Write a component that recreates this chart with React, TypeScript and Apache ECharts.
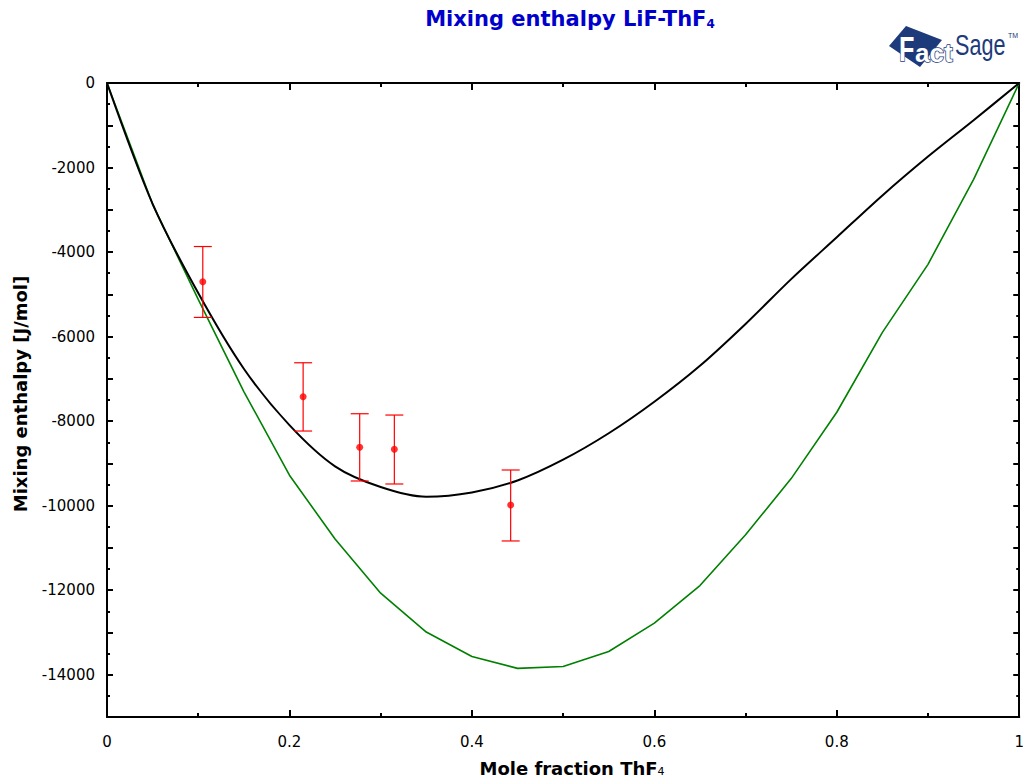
import React, { useEffect, useRef } from 'react';
import * as echarts from 'echarts';

// Model curve (black)
const modelX = [0, 0.05, 0.1, 0.15, 0.2, 0.25, 0.3, 0.35, 0.4, 0.45, 0.5, 0.55, 0.6, 0.65, 0.7, 0.75, 0.8, 0.85, 0.9, 0.95, 1];
const modelY = [0, -2860, -4970, -6760, -8095, -9070, -9560, -9790, -9690, -9404, -8912, -8287, -7541, -6690, -5700, -4640, -3650, -2660, -1740, -880, 0];

// Ideal/other curve (green)
const idealX = [0, 0.05, 0.1, 0.15, 0.2, 0.25, 0.3, 0.35, 0.4, 0.45, 0.5, 0.55, 0.6, 0.65, 0.7, 0.75, 0.8, 0.85, 0.9, 0.95, 1];
const idealY = [0, -2870, -5120, -7300, -9280, -10790, -12070, -12990, -13570, -13850, -13806, -13450, -12780, -11890, -10690, -9360, -7790, -5900, -4290, -2280, 0];

// Experimental points with error bars
const expX = [0.105, 0.215, 0.277, 0.315, 0.4425];
const expY = [-4704, -7423, -8619, -8667, -9983];
const expLow = [-5546, -8234, -9416, -9487, -10835];
const expHigh = [-3869, -6619, -7825, -7856, -9156];

const xTickLabels = ['0', '0.2', '0.4', '0.6', '0.8', '1'];
const yTickLabels = ['0', '-2000', '-4000', '-6000', '-8000', '-10000', '-12000', '-14000'];

const FONT = '"DejaVu Sans", "Liberation Sans", Arial, sans-serif';
const LOGO_FONT = '"Liberation Sans", Arial, sans-serif';
const NAVY = '#1d3a7b';

export default function App() {
  const ref = useRef<HTMLDivElement>(null);

  useEffect(() => {
    if (!ref.current) return;
    const chart = echarts.init(ref.current, undefined, { renderer: 'svg' });

    const axisLine = { show: true, onZero: false, lineStyle: { color: '#000', width: 2 } };
    const xTick = { show: true, inside: true, length: 7, lineStyle: { color: '#000', width: 2 } };
    const xMinor = { show: true, splitNumber: 2, length: 4, lineStyle: { color: '#000', width: 2 } };
    const yTick = { show: true, inside: true, length: 6, lineStyle: { color: '#000', width: 2 } };
    const yMinor = { show: true, splitNumber: 2, length: 3, lineStyle: { color: '#000', width: 2 } };

    const xBase = {
      type: 'value' as const,
      min: 0,
      max: 1,
      interval: 0.2,
      axisLine,
      axisTick: xTick,
      minorTick: xMinor,
      splitLine: { show: false },
      minorSplitLine: { show: false },
    };
    const yBase = {
      type: 'value' as const,
      min: -15000,
      max: 0,
      interval: 1000,
      axisLine,
      axisTick: yTick,
      minorTick: yMinor,
      splitLine: { show: false },
      minorSplitLine: { show: false },
    };

    const option: any = {
      animation: false,
      backgroundColor: '#fff',
      grid: { left: 107, right: 4, top: 83, bottom: 64, containLabel: false },
      xAxis: [
        {
          ...xBase,
          position: 'bottom',
          axisLabel: {
            margin: 17,
            fontSize: 15,
            fontFamily: FONT,
            color: '#000',
            formatter: (v: number) => {
              const idx = Math.round(v / 0.2);
              return Math.abs(v - idx * 0.2) < 1e-6 ? xTickLabels[idx] ?? '' : '';
            },
          },
        },
        { ...xBase, position: 'top', axisLabel: { show: false } },
      ],
      yAxis: [
        {
          ...yBase,
          position: 'left',
          axisLabel: {
            margin: 12,
            fontSize: 15,
            fontFamily: FONT,
            color: '#000',
            formatter: (v: number) => {
              const idx = Math.round(-v / 2000);
              return Math.abs(-v - idx * 2000) < 1e-6 ? yTickLabels[idx] ?? '' : '';
            },
          },
        },
        { ...yBase, position: 'right', axisLabel: { show: false } },
      ],
      series: [
        {
          type: 'line',
          data: idealX.map((x, i) => [x, idealY[i]]),
          showSymbol: false,
          smooth: false,
          lineStyle: { color: '#008000', width: 1.6 },
          z: 2,
        },
        {
          type: 'line',
          data: modelX.map((x, i) => [x, modelY[i]]),
          showSymbol: false,
          smooth: 0.3,
          lineStyle: { color: '#000', width: 2 },
          z: 3,
        },
        {
          type: 'custom',
          data: expX.map((x, i) => [x, expLow[i], expHigh[i]]),
          encode: { x: 0, y: [1, 2] },
          z: 4,
          renderItem: (params: any, api: any) => {
            const x = api.value(0);
            const lo = api.coord([x, api.value(1)]);
            const hi = api.coord([x, api.value(2)]);
            const w = 9;
            const style = { stroke: '#ff0000', lineWidth: 1.2 };
            return {
              type: 'group',
              children: [
                { type: 'line', shape: { x1: lo[0], y1: lo[1], x2: hi[0], y2: hi[1] }, style },
                { type: 'line', shape: { x1: lo[0] - w, y1: lo[1], x2: lo[0] + w, y2: lo[1] }, style },
                { type: 'line', shape: { x1: hi[0] - w, y1: hi[1], x2: hi[0] + w, y2: hi[1] }, style },
              ],
            };
          },
        },
        {
          type: 'scatter',
          data: expX.map((x, i) => [x, expY[i]]),
          symbol: 'circle',
          symbolSize: 7,
          itemStyle: { color: '#ff0000' },
          z: 5,
        },
      ],
      graphic: [
        {
          type: 'text',
          x: 570,
          y: 19,
          style: {
            text: '{a|Mixing enthalpy LiF-ThF}{b|4}',
            align: 'center',
            verticalAlign: 'middle',
            rich: {
              a: { fontFamily: FONT, fontWeight: 'bold', fontSize: 21, fill: '#0000cc' },
              b: { fontFamily: FONT, fontWeight: 'bold', fontSize: 12, fill: '#0000cc', verticalAlign: 'bottom' },
            },
          },
        },
        {
          type: 'text',
          x: 572,
          y: 768,
          style: {
            text: '{a|Mole fraction ThF}{b|4}',
            align: 'center',
            verticalAlign: 'middle',
            rich: {
              a: { fontFamily: FONT, fontWeight: 'bold', fontSize: 18, fill: '#000' },
              b: { fontFamily: FONT, fontSize: 11, fill: '#000', verticalAlign: 'bottom' },
            },
          },
        },
        {
          type: 'text',
          x: 20,
          y: 394,
          rotation: Math.PI / 2,
          style: {
            text: 'Mixing enthalpy [J/mol]',
            align: 'center',
            verticalAlign: 'middle',
            fontFamily: FONT,
            fontWeight: 'bold',
            fontSize: 18,
            fill: '#000',
          },
        },
        {
          type: 'group',
          children: [
            {
              type: 'polygon',
              shape: { points: [[889, 46], [906, 26], [942, 40], [920, 67]] },
              style: { fill: NAVY },
            },
            {
              type: 'text',
              x: 899,
              y: 49,
              scaleX: 0.7,
              style: {
                text: 'F',
                fontFamily: LOGO_FONT,
                fontWeight: 'bold',
                fontSize: 36,
                fill: '#fff',
                stroke: NAVY,
                lineWidth: 1.5,
                verticalAlign: 'middle',
              },
            },
            {
              type: 'text',
              x: 915,
              y: 52.5,
              style: {
                text: 'act',
                fontFamily: LOGO_FONT,
                fontWeight: 'bold',
                fontSize: 26,
                fill: '#fff',
                stroke: NAVY,
                lineWidth: 1.5,
                verticalAlign: 'middle',
              },
            },
            {
              type: 'text',
              x: 955,
              y: 45,
              scaleX: 0.72,
              style: {
                text: 'Sage',
                fontFamily: LOGO_FONT,
                fontSize: 30,
                fill: NAVY,
                verticalAlign: 'middle',
              },
            },
            {
              type: 'text',
              x: 1008,
              y: 35.5,
              style: {
                text: 'TM',
                fontFamily: LOGO_FONT,
                fontSize: 7,
                fill: NAVY,
                verticalAlign: 'middle',
              },
            },
          ],
        },
      ],
    };

    chart.setOption(option);
    return () => chart.dispose();
  }, []);

  return (
    <div
      ref={ref}
      style={{ position: 'fixed', left: 0, top: 0, width: '1027px', height: '781px', background: '#fff' }}
    />
  );
}
